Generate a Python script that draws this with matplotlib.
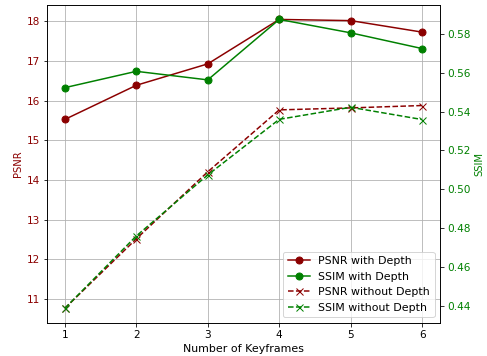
import numpy as np
import matplotlib
matplotlib.use('Agg')
import matplotlib.pyplot as plt

# Data
keyframes = [1, 2, 3, 4, 5, 6]
psnr_depth = [15.53, 16.39, 16.93, 18.05, 18.02, 17.73]
ssim_depth = [0.5523, 0.5607, 0.5563, 0.5874, 0.5805, 0.5724]
psnr_nodepth = [10.77, 12.52, 14.21, 15.77, 15.82, 15.88]
ssim_nodepth = [0.4388, 0.4760, 0.5074, 0.5360, 0.5422, 0.5359]

fig, ax1 = plt.subplots(figsize=(487/72, 356/72), dpi=72)
fig.subplots_adjust(left=0.0965, right=0.9035, top=0.986, bottom=0.0935)

# PSNR on the left axis
l1, = ax1.plot(keyframes, psnr_depth, color='darkred', marker='o', markersize=7, label='PSNR with Depth')
l3, = ax1.plot(keyframes, psnr_nodepth, color='darkred', marker='x', markersize=7, linestyle='--', label='PSNR without Depth')
ax1.set_xlabel('Number of Keyframes', fontsize=11)
ax1.set_ylabel('PSNR', color='darkred')
ax1.tick_params(axis='y', labelcolor='darkred', labelsize=10.5)
ax1.tick_params(axis='x', labelsize=10.5)
ax1.grid(True)

# SSIM on the right axis
ax2 = ax1.twinx()
l2, = ax2.plot(keyframes, ssim_depth, color='green', marker='o', markersize=7, label='SSIM with Depth')
l4, = ax2.plot(keyframes, ssim_nodepth, color='green', marker='x', markersize=7, linestyle='--', label='SSIM without Depth')
ax2.set_ylabel('SSIM', color='green')
ax2.tick_params(axis='y', labelcolor='green', labelsize=10.5)

lines = [l1, l2, l3, l4]
ax2.legend(lines, [l.get_label() for l in lines], loc='lower right', fontsize=11)

plt.savefig('out.png', dpi=72)
plt.close()
